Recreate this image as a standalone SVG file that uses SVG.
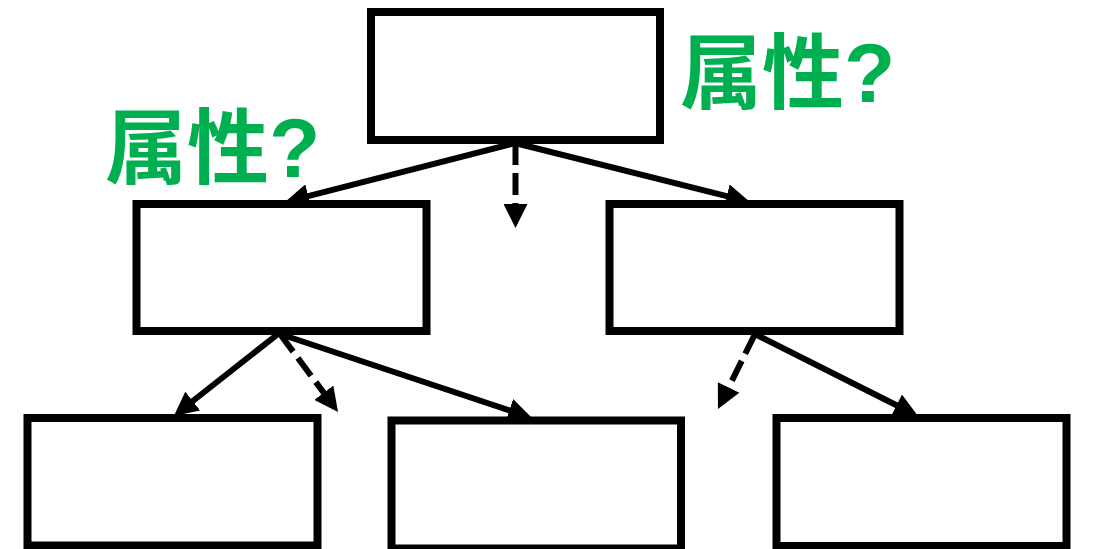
<svg xmlns="http://www.w3.org/2000/svg" width="1097" height="549" viewBox="0 0 1097 549">
<style>
.box{fill:#fff;stroke:#000;stroke-width:8}
.c{stroke:#000;stroke-width:6;fill:none;marker-end:url(#ah)}
.d{stroke-dasharray:22 8}
.lbl{font-family:"Noto Sans CJK SC","Noto Sans CJK JP",sans-serif;font-weight:bold;font-size:82px;fill:#00B050}
.q{font-family:"Liberation Sans",Arial,sans-serif;font-size:84px}
</style>
<defs>
<marker id="ah" viewBox="0 0 10 10" refX="3" refY="5" markerWidth="4" markerHeight="4" orient="auto">
<path d="M0,0 L10,5 L0,10 z" fill="#000"/>
</marker>
</defs>
<rect width="1097" height="549" fill="#fff"/>
<g id="n-top"><rect class="box" x="371" y="12" width="289" height="128"/></g>
<g id="n-midL"><rect class="box" x="136.5" y="204" width="290" height="127"/></g>
<g id="n-midR"><rect class="box" x="609.5" y="204" width="290" height="127"/></g>
<g id="n-botL"><rect class="box" x="27.5" y="418" width="290" height="127.5"/></g>
<g id="n-botM"><rect class="box" x="391.5" y="420.5" width="289.5" height="128"/></g>
<g id="n-botR"><rect class="box" x="776.5" y="418" width="290" height="128"/></g>
<g id="connectors">
<line class="c" x1="515" y1="143" x2="301.3" y2="197.8"/>
<line class="c" x1="515" y1="143" x2="733.7" y2="197.9"/>
<line class="c d" x1="515.5" y1="143" x2="515.5" y2="211.2"/>
<line class="c" x1="278" y1="334" x2="187.1" y2="405.5"/>
<line class="c d" x1="280" y1="334" x2="328" y2="398.5"/>
<line class="c" x1="280" y1="334" x2="516.1" y2="412.7"/>
<line class="c d" x1="755" y1="334" x2="725.4" y2="393.9"/>
<line class="c" x1="755" y1="334" x2="903" y2="408.5"/>
</g>
<g id="labels">
<text class="lbl" x="105" y="177">属性<tspan class="q">?</tspan></text>
<text class="lbl" x="680" y="102">属性<tspan class="q">?</tspan></text>
</g>
</svg>
